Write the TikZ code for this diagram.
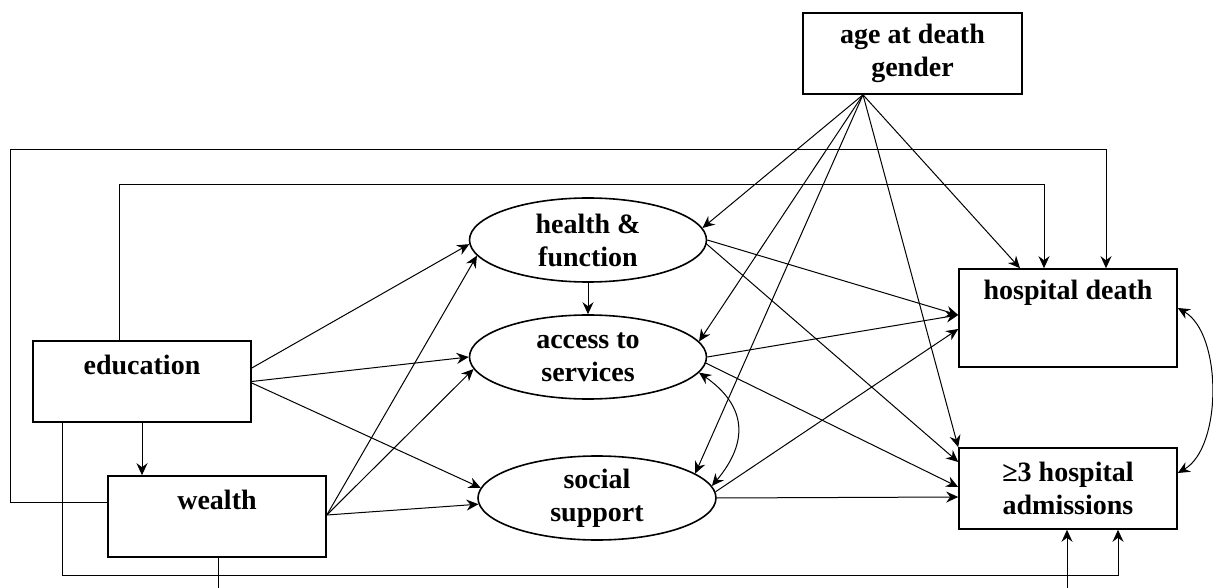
\documentclass[tikz,border=0pt]{standalone}
\usepackage{fontspec}
\setmainfont{Liberation Serif}
\usetikzlibrary{arrows.meta,shapes.geometric}
\begin{document}
\begin{tikzpicture}[x=1pt,y=1pt,
  font=\bfseries\fontsize{28}{33}\selectfont,
  tip/.tip={Stealth[length=12pt,width=11pt,inset=4pt]},
  box/.style={draw,line width=1.6pt,rectangle,inner sep=0pt,minimum width=218pt},
  oval/.style={draw,line width=1.6pt,ellipse,inner sep=0pt,minimum width=237pt,minimum height=84pt,align=center},
  lbl/.style={inner sep=0pt,align=center},
  conn/.style={line width=1pt,-tip},
  both/.style={line width=1pt,tip-tip},
  wire/.style={line width=1pt}]
\useasboundingbox (0,0) rectangle (1213,587);
\clip (0,0) rectangle (1213,587);

% boxes
\node[box,minimum width=219pt,minimum height=81pt,align=center] (age) at (912.5,533.5) {age at death\\gender};
\node[box,minimum height=81pt] (edu) at (142,205.5) {};
\node[lbl] (edut) at (142,222) {education};
\node[box,minimum height=81pt] (wealth) at (217,70.5) {};
\node[lbl] (wealtht) at (217,87) {wealth};
\node[box,minimum height=98pt] (hd) at (1068,269) {};
\node[lbl] (hdt) at (1068,294) {hospital death};
\node[box,minimum height=81pt,align=center] (adm) at (1068,98.5) {≥3 hospital\\admissions};

% mediators
\node[oval] (health) at (588,347) {health \&\\function};
\node[oval] (access) at (588,230) {access to\\services};
\node[oval,minimum width=238pt] (social) at (597,89) {social\\support};

% education and wealth
\draw[conn] (edu.south) -- (edu.south |- wealth.north);
\draw[conn] ([yshift=13.5pt]edu.east) -- (health.182);
\draw[conn] (edu.east) -- (access.180);
\draw[conn] ([yshift=-1.5pt]edu.east) -- (social.175);
\draw[conn] ([yshift=1.5pt]wealth.east) -- (health.188);
\draw[conn] ([yshift=1.5pt]wealth.east) -- (access.186);
\draw[conn] ([yshift=1.5pt]wealth.east) -- (social.183);

% direct paths around the mediators
\draw[conn] ([xshift=-23pt]edu.north) -- ++(0,156) -| ([xshift=-24pt]hd.north);
\draw[conn] ([yshift=14.5pt]wealth.west) -- ++(-97,0) -- ++(0,352) -| ([xshift=38pt]hd.north);
\draw[conn] ([xshift=-80pt]edu.south) -- ++(0,-153) -| ([xshift=50pt]adm.south);
\draw[conn] ([xshift=1pt]wealth.south) -- ++(0,-40) -| ([xshift=-1pt]adm.south);

% covariates
\coordinate (fan) at ([xshift=-49.5pt]age.south);
\draw[conn] (fan) -- (health.6);
\draw[conn] (fan) -- (access.8);
\draw[conn] (fan) -- (social.14);
\draw[conn] (fan) -- ([xshift=-48pt]hd.north);
\draw[conn] (fan) -- (adm.north west);

% mediators to outcomes
\draw[conn] (health.south) -- (access.north);
\draw[conn] (health.0) -- ([yshift=3pt]hd.west);
\draw[conn] (health.-2) -- ([yshift=26.5pt]adm.west);
\draw[conn] (access.0) -- ([yshift=3pt]hd.west);
\draw[conn] (access.-3) -- ([yshift=1.5pt]adm.west);
\draw[conn] (social.3) -- ([yshift=-11pt]hd.west);
\draw[conn] (social.0) -- ([yshift=-8.5pt]adm.west);

% correlations
\draw[both] (access.-8) to[out=-35,in=50,looseness=1.3] (social.6);
\draw[both] ([yshift=10pt]hd.east) to[out=-30,in=30,looseness=0.8] ([yshift=15.5pt]adm.east);
\end{tikzpicture}
\end{document}
